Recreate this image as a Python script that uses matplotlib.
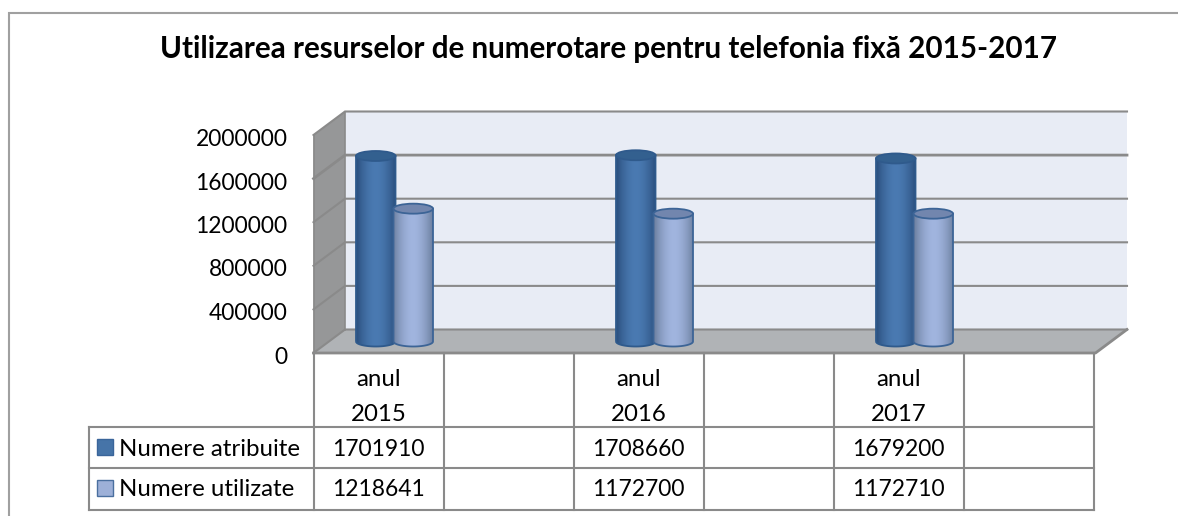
import numpy as np
import matplotlib
matplotlib.use("Agg")
import matplotlib.pyplot as plt
from matplotlib.patches import Ellipse, Polygon, Rectangle, PathPatch
from matplotlib.path import Path

plt.rcParams['font.family'] = ['Lato', 'DejaVu Sans']

TITLE = "Utilizarea resurselor de numerotare pentru telefonia fixă 2015-2017"
years = ["anul\n2015", "anul\n2016", "anul\n2017"]
series_names = ["Numere atribuite", "Numere utilizate"]
assigned = [1701910, 1708660, 1679200]
used = [1218641, 1172700, 1172710]
yticks = [0, 400000, 800000, 1200000, 1600000, 2000000]

W, H = 1178, 516
fig = plt.figure(figsize=(W / 100, H / 100), dpi=100, facecolor="white")

# pixel-space axes for the chart furniture
bg = fig.add_axes([0, 0, 1, 1])
bg.set_xlim(0, W); bg.set_ylim(H, 0); bg.axis("off")

GRID = "#8a8a8a"
bg.plot([8.5, 8.5, W], [H, 12.5, 12.5], color="#a0a0a0", lw=1.5, solid_joinstyle="miter")

backL, backR, backB, backT = 345, 1127, 329.5, 111.5
dx, dy = 31.5, 23.5
step = (backB - backT) / 5
bg.add_patch(Rectangle((backL, backT), backR - backL, backB - backT, fc="#E8ECF5", ec="none"))
bg.add_patch(Polygon([(backL - dx, backT + dy), (backL, backT), (backL, backB), (backL - dx, backB + dy)],
                     fc="#969798", ec="none"))
bg.add_patch(Polygon([(backL - dx, backB + dy), (backL, backB), (backR, backB), (backR - dx, backB + dy)],
                     fc="#B0B3B6", ec="none"))
for i in range(6):
    y = backB - i * step
    lw = 2.0 if i == 4 else 1.5
    bg.plot([backL - dx, backL, backR], [y + dy, y, y], color=GRID, lw=lw, solid_joinstyle="miter")
bg.plot([backL - dx, backL - dx], [backT + dy, backB + dy], color=GRID, lw=1.2)
bg.plot([backL, backL], [backT, backB], color=GRID, lw=1.2)
bg.plot([backL - dx, backR - dx, backR], [backB + dy, backB + dy, backB], color=GRID, lw=2)

# table
cols = [313.5 + 130 * i for i in range(7)]
tableT, row1, row2, tableB = backB + dy, 427, 468, 509.5
rowL = 88.5
for x in cols:
    bg.plot([x, x], [tableT, tableB], color=GRID, lw=1.5)
for y in [row1, row2, tableB]:
    bg.plot([rowL, cols[-1]], [y, y], color=GRID, lw=1.5)
bg.plot([rowL, rowL], [row1, tableB], color=GRID, lw=1.5)

FS = 17.3
FD = 16.4
for v, yr in zip(yticks, [357, 313.5, 270, 226.5, 183, 139.5]):
    bg.text(287.5, yr, str(v), ha="right", va="center", fontsize=FD, color="black")
for i, (lab, a, u) in enumerate(zip(years, assigned, used)):
    cx = (cols[2 * i] + cols[2 * i + 1]) / 2
    bg.text(cx, 397, lab, ha="center", va="center", fontsize=FS, linespacing=1.83, color="black")
    bg.text(cx, row1 + 22, str(a), ha="center", va="center", fontsize=FD, color="black")
    bg.text(cx, row2 + 22, str(u), ha="center", va="center", fontsize=FD, color="black")
bg.text(119, row1 + 22, series_names[0], ha="left", va="center", fontsize=FS, color="black")
bg.text(119, row2 + 22, series_names[1], ha="left", va="center", fontsize=FS, color="black")
bg.add_patch(Rectangle((96.5, 439), 16, 16, fc="#4674A8", ec="#3a659a", lw=1))
bg.add_patch(Rectangle((96.5, 480), 16, 16, fc="#9DB0D8", ec="#4a6f9f", lw=1))
bg.text(608.5, 49, TITLE, ha="center", va="center", fontsize=21.3, fontweight="bold", color="black")

# data axes: category position on x, value on y
ax = fig.add_axes([0, 0, 1, 1], facecolor="none")
ax.axis("off")
PX_X = 260.0                # pixels per category
PX_Y = 218.0 / 2000000.0    # pixels per value unit
X0, Y0 = 394.5, 341.5       # pixel of category 0, value 0
xlim = (-X0 / PX_X, (W - X0) / PX_X)
ylim = ((Y0 - H) / PX_Y, Y0 / PX_Y)

OFF = 18.75 / PX_X
BW = 39.5 / PX_X
EH = 10 / PX_Y              # ellipse height in value units


def hexrgb(c):
    return np.array(matplotlib.colors.to_rgb(c))


def cylinder(x, v, edge_c, mid_c, top_c, edge_line, z):
    left, right = x - BW / 2, x + BW / 2
    ax.bar([x], [v], width=BW, color="none", edgecolor="none", zorder=z)
    t = np.linspace(0, np.pi, 40)
    xs = x - BW / 2 * np.cos(t)
    ys = -EH / 2 * np.sin(t)
    verts = list(zip(xs, ys)) + [(right, v), (left, v), (left, 0)]
    path = Path(verts, closed=False)
    u = np.linspace(0, 1, 128)
    w = np.clip(np.abs(u - 0.5) * 2, 0, 1) ** 1.8
    grad = (1 - w)[:, None] * hexrgb(mid_c) + w[:, None] * hexrgb(edge_c)
    im = ax.imshow(grad[None, :, :], extent=(left, right, -EH, v), aspect="auto", zorder=z, interpolation="bilinear")
    patch = PathPatch(path, fc="none", ec=edge_line, lw=1.3, zorder=z + 0.1)
    ax.add_patch(patch)
    im.set_clip_path(patch)
    ax.add_patch(Ellipse((x, v), BW, EH, fc=top_c, ec=edge_line, lw=1.3, zorder=z + 0.2))


for i in range(len(years)):
    cylinder(i - OFF, assigned[i], "#2A4E7C", "#4A7AB2", "#33608F", "#2F5A8C", 3)
    cylinder(i + OFF, used[i], "#6C7F9F", "#A1B5DF", "#7286AE", "#3C6496", 4)

ax.set_xlim(xlim); ax.set_ylim(ylim)

fig.savefig("out.png", dpi=100)
